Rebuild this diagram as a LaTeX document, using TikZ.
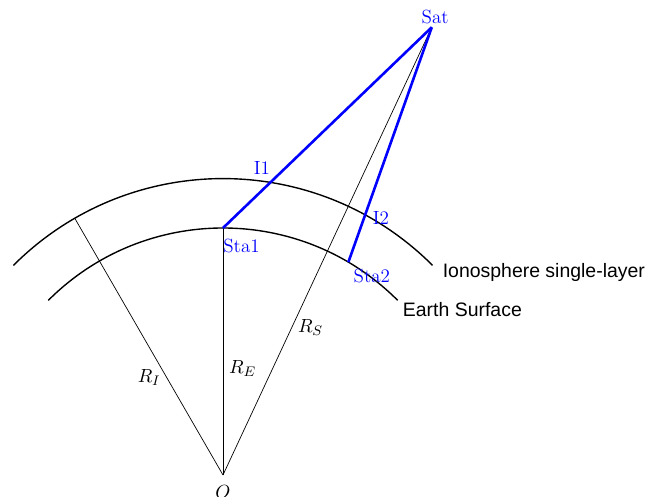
\documentclass[tikz,border=0pt]{standalone}
\usepackage{fontspec}
\newfontfamily\labelsans{Liberation Sans}
\usetikzlibrary{intersections}
\begin{document}
\begin{tikzpicture}[every node/.style={font=\fontsize{11}{13}\selectfont},
  ray/.style={blue,line width=1.5pt},
  layer/.style={line width=0.8pt},
  ptlabel/.style={text=blue,inner sep=0pt},
  sidelabel/.style={anchor=base west,inner sep=0pt,font=\labelsans\fontsize{11.2}{13}\selectfont}]
% Single-layer ionosphere geometry
\useasboundingbox (-4.514,-0.445) rectangle (8.583,9.615);
\coordinate (O) at (0,0);
\coordinate (Sta1) at (90:5);
\coordinate (Sta2) at (59.5:5);
\coordinate (Sat) at (65:10);
\coordinate (RI) at (120:6);
\coordinate (ionoEnd) at (45:6);
\coordinate (earthEnd) at (45:5);
\draw[layer,name path=iono] (135:6) arc[start angle=135,end angle=45,radius=6];
\draw[layer] (135:5) arc[start angle=135,end angle=45,radius=5];
\draw (O) -- (RI) node[pos=0.38,left] (ri) {$R_I$};
\draw (O) -- (Sta1) node[pos=0.43,right] (re) {$R_E$};
\draw (O) -- (Sat) node[pos=0.33,right] (rs) {$R_S$};
\path[name path=los1] (Sta1) -- (Sat);
\path[name path=los2] (Sta2) -- (Sat);
\path[name intersections={of=iono and los1,by=I1}];
\path[name intersections={of=iono and los2,by=I2}];
\draw[ray] (Sta1) -- (Sat);
\draw[ray] (Sta2) -- (Sat);
\node[ptlabel,anchor=south,xshift=2pt,yshift=2pt] (sat) at (Sat) {Sat};
\node[ptlabel,anchor=base west] (sta1) at ([yshift=-0.506cm]Sta1) {Sta1};
\node[ptlabel,anchor=base west] (sta2) at ([shift={(0.1,-0.405)}]Sta2) {Sta2};
\node[ptlabel,anchor=base east] (i1) at ([yshift=0.16cm]I1) {I1};
\node[ptlabel,anchor=base west] (i2) at ([shift={(0.15,-0.2)}]I2) {I2};
\node[anchor=north,inner sep=0pt] (o) at ([yshift=-0.2cm]O) {$O$};
\node[sidelabel] (iono) at ([shift={(0.2,-0.235)}]ionoEnd) {Ionosphere single-layer};
\node[sidelabel] (earth) at ([shift={(0.1,-0.32)}]earthEnd) {Earth Surface};
\end{tikzpicture}
\end{document}
